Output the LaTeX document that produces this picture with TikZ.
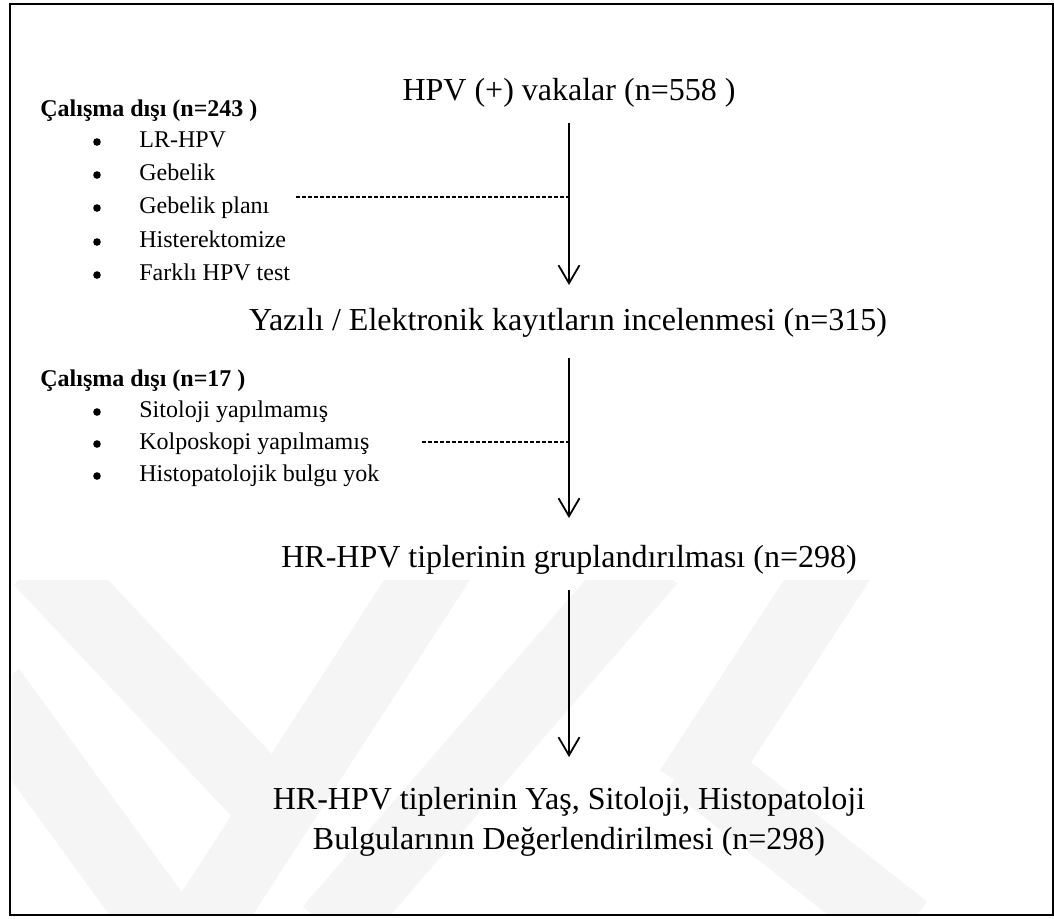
\documentclass[tikz,border=0pt]{standalone}
\usepackage{fontspec}
\setmainfont{Liberation Serif}
\usetikzlibrary{arrows.meta}
\begin{document}
\begin{tikzpicture}[x=0.5pt,y=-0.5pt,
  title/.style={font=\fontsize{16}{20}\selectfont, inner sep=0pt, anchor=base},
  head/.style={font=\fontsize{12}{14}\selectfont\bfseries, inner sep=0pt, anchor=base west},
  item/.style={font=\fontsize{12}{14}\selectfont, inner sep=0pt, anchor=base west},
  bul/.style={circle, fill=black, inner sep=0pt, minimum size=3.8pt},
  flow/.style={line width=0.9pt, -{Straight Barb[length=9pt,width=10.5pt,line width=0.9pt]}},
  dashline/.style={line width=0.6pt, dash pattern=on 2pt off 1pt},
  wm/.style={line width=36pt, black!4, line cap=butt},
  frame/.style={line width=1.2pt}
]
\useasboundingbox (0,0) rectangle (1054,918);
% watermark
\begin{scope}
\clip (12,580) rectangle (1050,913);
\draw[wm] (40,560) -- (275,810);
\draw[wm] (440,560) -- (200,930);
\draw[wm] (-10,690) -- (165,930);
\draw[wm] (650,560) -- (330,930);
\draw[wm] (840,560) -- (690,790);
\draw[wm] (690,760) -- (905,930);
\end{scope}
% frame
\draw[frame] (10,4) rectangle (1053,915);
% main flow
\node[title] (t1) at (569,100) {HPV (+) vakalar (n=558 )};
\node[title] (t2) at (568,330) {Yazılı / Elektronik kayıtların incelenmesi (n=315)};
\node[title] (t3) at (569,567) {HR-HPV tiplerinin gruplandırılması (n=298)};
\node[title, align=center, anchor=north] (t4) at (569,787)
  {HR-HPV tiplerinin Yaş, Sitoloji, Histopatoloji\\[0pt]Bulgularının Değerlendirilmesi (n=298)};
% exclusions group 1
\node[head] (h1) at (40,116) {Çalışma dışı (n=243 )};
\foreach \n/\t/\y in {a/LR-HPV/147,b/Gebelik/180,c/Gebelik planı/213,d/Histerektomize/247,e/Farklı HPV test/280}{
  \node[bul] (b1\n) at (97,\y-5) {};
  \node[item] (i1\n) at (139,\y) {\t};
}
% exclusions group 2
\node[head] (h2) at (40,386) {Çalışma dışı (n=17 )};
\foreach \n/\t/\y in {a/Sitoloji yapılmamış/417,b/Kolposkopi yapılmamış/449,c/Histopatolojik bulgu yok/481}{
  \node[bul] (b2\n) at (97,\y-5) {};
  \node[item] (i2\n) at (139,\y) {\t};
}
% arrows
\coordinate (s1) at (569,123);
\coordinate (e1) at (569,285);
\coordinate (s2) at (569,358);
\coordinate (e2) at (569,518);
\coordinate (s3) at (569,590);
\coordinate (e3) at (569,757);
\draw[flow] (s1) -- (e1);
\draw[flow] (s2) -- (e2);
\draw[flow] (s3) -- (e3);
% dashed joins
\coordinate (d1) at (296,197);
\coordinate (d2) at (422,442);
\draw[dashline] (d1) -- (d1 -| s1);
\draw[dashline] (d2) -- (d2 -| s2);
\end{tikzpicture}
\end{document}
